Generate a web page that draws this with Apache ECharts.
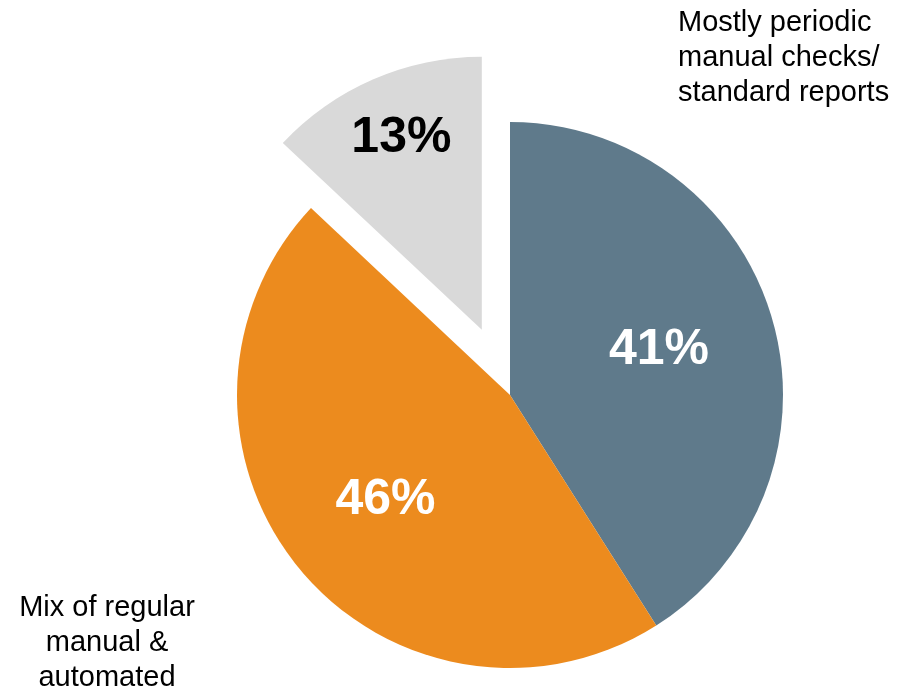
<!DOCTYPE html>
<html>
<head>
<meta charset="utf-8">
<script src="https://cdn.jsdelivr.net/npm/echarts@6/dist/echarts.min.js"></script>
<style>
  html, body { margin: 0; padding: 0; background: #fff; }
  #chart-container { width: 902px; height: 688px; }
</style>
</head>
<body>
<div id="chart-container"></div>
<script>
const categories = ['Mostly periodic manual checks/ standard reports', 'Mix of regular manual & automated', 'Other'];
const values = [41, 46, 13];
const colors = ['#5f7a8b', '#ec8b1e', '#d9d9d9'];
const labelColors = ['#ffffff', '#ffffff', '#000000'];
// nudges the inside labels to where the original chart placed them
const labelNudge = [[15, -6], [-17, 16], [-25, -64]];

const FONT = '"Liberation Sans", Arial, sans-serif';

try {
  const chartDom = document.getElementById('chart-container');
  const myChart = echarts.init(chartDom);

  const pieData = values.map(function (v, i) {
    return {
      name: categories[i],
      value: v,
      selected: i === 2,
      itemStyle: { color: colors[i] },
      label: { color: labelColors[i] }
    };
  });

  const option = {
    animation: false,
    series: [{
      type: 'pie',
      center: [510, 395],
      radius: 273,
      startAngle: 90,
      clockwise: true,
      selectedMode: 'single',
      selectedOffset: 71,
      emphasis: { disabled: true },
      label: {
        show: true,
        position: 'inside',
        formatter: '{c}%',
        fontFamily: FONT,
        fontWeight: 'bold',
        fontSize: 50
      },
      labelLayout: function (params) {
        const n = labelNudge[params.dataIndex];
        return { dx: n[0], dy: n[1] };
      },
      labelLine: { show: false },
      data: pieData
    }],
    graphic: [
      {
        type: 'text',
        x: 678,
        y: 5,
        style: {
          text: 'Mostly periodic\nmanual checks/\nstandard reports',
          font: '29px ' + FONT,
          lineHeight: 35,
          verticalAlign: 'top',
          fill: '#000'
        }
      },
      {
        type: 'text',
        x: 107,
        y: 590,
        style: {
          text: 'Mix of regular\nmanual &\nautomated',
          font: '29px ' + FONT,
          lineHeight: 35,
          align: 'center',
          verticalAlign: 'top',
          fill: '#000'
        }
      }
    ]
  };
  myChart.setOption(option);
} catch (error) {
  console.error('Failed to render chart:', error);
  document.body.innerHTML = `<div style="color: red;">Error rendering chart: ${error}</div>`;
}
</script>
</body>
</html>
